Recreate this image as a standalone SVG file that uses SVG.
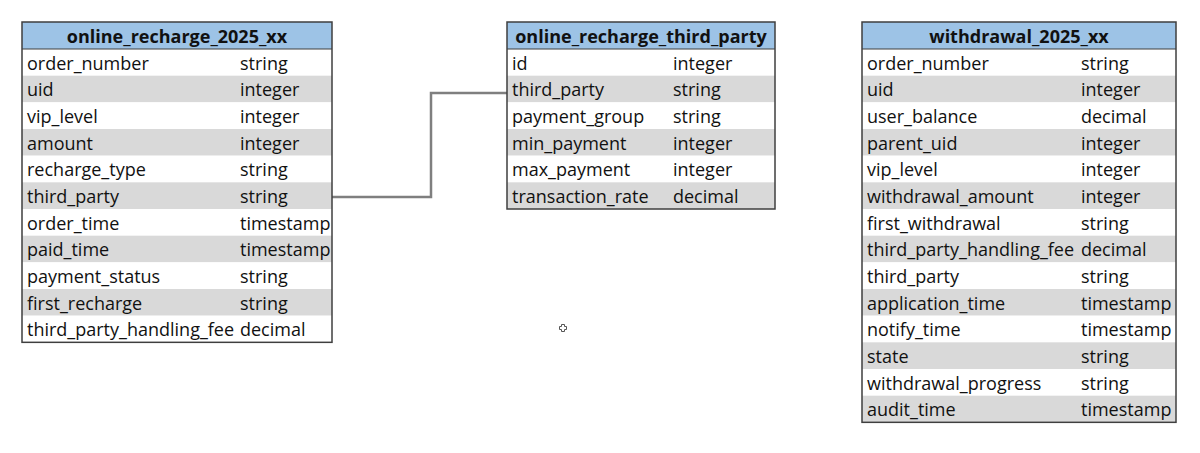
<svg xmlns="http://www.w3.org/2000/svg" width="1200" height="453" viewBox="0 0 1200 453">
<style>
.hdr{fill:#9DC3E6}
.w{fill:#FFFFFF}
.g{fill:#D9D9D9}
.frame{fill:none;stroke:#3F3F3F;stroke-width:1.5}
.hl{stroke:#3F3F3F;stroke-width:1}
text{font-family:"Open Sans","Liberation Sans",sans-serif;font-size:18px;fill:#111111}
.t{font-weight:bold;text-anchor:middle}
.conn{fill:none;stroke:#7F7F7F;stroke-width:2.5}
</style>
<rect width="1200" height="453" fill="#FFFFFF"/>
<g id="conns">
<path class="conn" d="M332,197 H431 V93 H507"/>
</g>
<g id="online_recharge_2025_xx">
<rect class="hdr" x="22" y="22" width="310" height="27"/>
<rect class="w" x="22" y="49" width="310" height="26.67"/>
<rect class="g" x="22" y="75.67" width="310" height="26.67"/>
<rect class="w" x="22" y="102.33" width="310" height="26.67"/>
<rect class="g" x="22" y="129" width="310" height="26.67"/>
<rect class="w" x="22" y="155.67" width="310" height="26.67"/>
<rect class="g" x="22" y="182.33" width="310" height="26.67"/>
<rect class="w" x="22" y="209" width="310" height="26.67"/>
<rect class="g" x="22" y="235.67" width="310" height="26.67"/>
<rect class="w" x="22" y="262.33" width="310" height="26.67"/>
<rect class="g" x="22" y="289" width="310" height="26.67"/>
<rect class="w" x="22" y="315.67" width="310" height="26.67"/>
<line class="hl" x1="22" y1="49" x2="332" y2="49"/>
<rect class="frame" x="22" y="22" width="310" height="320.33"/>
<text class="t" x="177" y="42.5">online_recharge_2025_xx</text>
<text x="27" y="69.5">order_number</text><text x="240" y="69.5">string</text>
<text x="27" y="96.2">uid</text><text x="240" y="96.2">integer</text>
<text x="27" y="122.8">vip_level</text><text x="240" y="122.8">integer</text>
<text x="27" y="149.5">amount</text><text x="240" y="149.5">integer</text>
<text x="27" y="176.2">recharge_type</text><text x="240" y="176.2">string</text>
<text x="27" y="202.8">third_party</text><text x="240" y="202.8">string</text>
<text x="27" y="229.5">order_time</text><text x="240" y="229.5">timestamp</text>
<text x="27" y="256.2">paid_time</text><text x="240" y="256.2">timestamp</text>
<text x="27" y="282.8">payment_status</text><text x="240" y="282.8">string</text>
<text x="27" y="309.5">first_recharge</text><text x="240" y="309.5">string</text>
<text x="27" y="336.2">third_party_handling_fee</text><text x="240" y="336.2">decimal</text>
</g>
<g id="online_recharge_third_party">
<rect class="hdr" x="507" y="22" width="268" height="27"/>
<rect class="w" x="507" y="49" width="268" height="26.67"/>
<rect class="g" x="507" y="75.67" width="268" height="26.67"/>
<rect class="w" x="507" y="102.33" width="268" height="26.67"/>
<rect class="g" x="507" y="129" width="268" height="26.67"/>
<rect class="w" x="507" y="155.67" width="268" height="26.67"/>
<rect class="g" x="507" y="182.33" width="268" height="26.67"/>
<line class="hl" x1="507" y1="49" x2="775" y2="49"/>
<rect class="frame" x="507" y="22" width="268" height="187"/>
<text class="t" x="641" y="42.5">online_recharge_third_party</text>
<text x="512" y="69.5">id</text><text x="673" y="69.5">integer</text>
<text x="512" y="96.2">third_party</text><text x="673" y="96.2">string</text>
<text x="512" y="122.8">payment_group</text><text x="673" y="122.8">string</text>
<text x="512" y="149.5">min_payment</text><text x="673" y="149.5">integer</text>
<text x="512" y="176.2">max_payment</text><text x="673" y="176.2">integer</text>
<text x="512" y="202.8">transaction_rate</text><text x="673" y="202.8">decimal</text>
</g>
<g id="withdrawal_2025_xx">
<rect class="hdr" x="862" y="22" width="314" height="27"/>
<rect class="w" x="862" y="49" width="314" height="26.67"/>
<rect class="g" x="862" y="75.67" width="314" height="26.67"/>
<rect class="w" x="862" y="102.33" width="314" height="26.67"/>
<rect class="g" x="862" y="129" width="314" height="26.67"/>
<rect class="w" x="862" y="155.67" width="314" height="26.67"/>
<rect class="g" x="862" y="182.33" width="314" height="26.67"/>
<rect class="w" x="862" y="209" width="314" height="26.67"/>
<rect class="g" x="862" y="235.67" width="314" height="26.67"/>
<rect class="w" x="862" y="262.33" width="314" height="26.67"/>
<rect class="g" x="862" y="289" width="314" height="26.67"/>
<rect class="w" x="862" y="315.67" width="314" height="26.67"/>
<rect class="g" x="862" y="342.33" width="314" height="26.67"/>
<rect class="w" x="862" y="369" width="314" height="26.67"/>
<rect class="g" x="862" y="395.67" width="314" height="26.67"/>
<line class="hl" x1="862" y1="49" x2="1176" y2="49"/>
<rect class="frame" x="862" y="22" width="314" height="400.33"/>
<text class="t" x="1019" y="42.5">withdrawal_2025_xx</text>
<text x="867" y="69.5">order_number</text><text x="1081" y="69.5">string</text>
<text x="867" y="96.2">uid</text><text x="1081" y="96.2">integer</text>
<text x="867" y="122.8">user_balance</text><text x="1081" y="122.8">decimal</text>
<text x="867" y="149.5">parent_uid</text><text x="1081" y="149.5">integer</text>
<text x="867" y="176.2">vip_level</text><text x="1081" y="176.2">integer</text>
<text x="867" y="202.8">withdrawal_amount</text><text x="1081" y="202.8">integer</text>
<text x="867" y="229.5">first_withdrawal</text><text x="1081" y="229.5">string</text>
<text x="867" y="256.2">third_party_handling_fee</text><text x="1081" y="256.2">decimal</text>
<text x="867" y="282.8">third_party</text><text x="1081" y="282.8">string</text>
<text x="867" y="309.5">application_time</text><text x="1081" y="309.5">timestamp</text>
<text x="867" y="336.2">notify_time</text><text x="1081" y="336.2">timestamp</text>
<text x="867" y="362.8">state</text><text x="1081" y="362.8">string</text>
<text x="867" y="389.5">withdrawal_progress</text><text x="1081" y="389.5">string</text>
<text x="867" y="416.2">audit_time</text><text x="1081" y="416.2">timestamp</text>
</g>
<path d="M561.5,324.5 h3 v2 h2 v3 h-2 v2 h-3 v-2 h-2 v-3 h2 z" fill="#FFFFFF" stroke="#555555" stroke-width="1"/>
</svg>
